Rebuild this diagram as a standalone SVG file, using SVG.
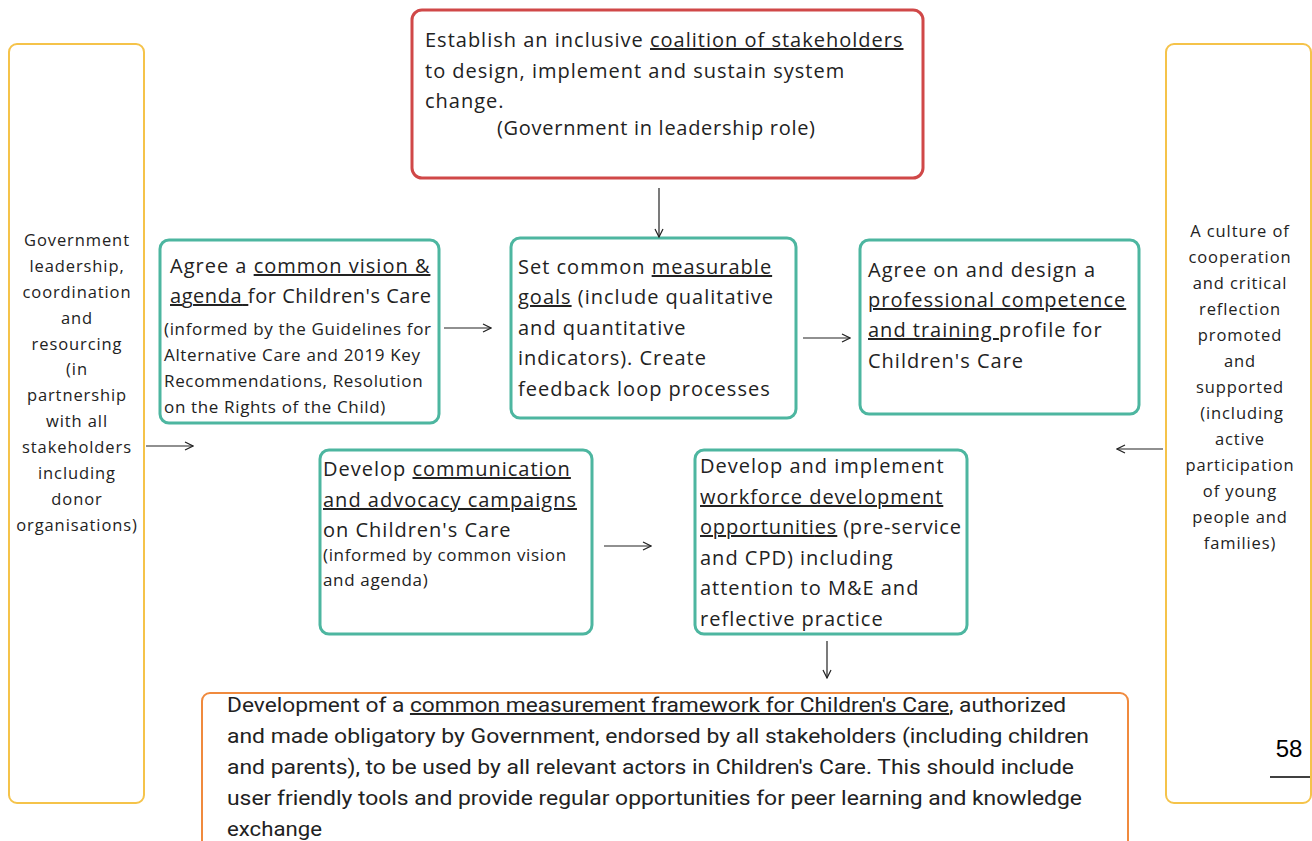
<svg xmlns="http://www.w3.org/2000/svg" width="1312" height="841" viewBox="0 0 1312 841">
<defs>
<marker id="arr" viewBox="0 0 10 10" refX="9" refY="5" markerWidth="10" markerHeight="10" markerUnits="userSpaceOnUse" orient="auto">
<path d="M1,1 L9,5 L1,9" fill="none" stroke="#222" stroke-width="1.2"/>
</marker>
<style>
.side{fill:#fff;stroke:#F5C34A;stroke-width:2}
.teal{fill:#fff;stroke:#4DB6A0;stroke-width:3}
.red{fill:#fff;stroke:#D04848;stroke-width:3}
.orange{fill:#fff;stroke:#F08A3E;stroke-width:2}
.t{font-family:"Open Sans","Noto Sans",sans-serif;font-size:20px;letter-spacing:1px;fill:#222}
.s{font-family:"Open Sans","Noto Sans",sans-serif;font-size:17px;letter-spacing:0.65px;fill:#222}
.sc{font-family:"Open Sans","Noto Sans",sans-serif;font-size:16.5px;letter-spacing:0.9px;fill:#222;text-anchor:middle}
.n{font-family:Roboto,"Liberation Sans",sans-serif;font-size:20px;fill:#222}
.u{text-decoration:underline}
.c{fill:none;stroke:#222;stroke-width:1.2}
</style>
</defs>
<rect width="1312" height="841" fill="#fff"/>

<g id="left">
<rect class="side" x="9" y="44" width="135" height="759" rx="8"/>
<text class="sc"><tspan x="77" y="246">Government</tspan><tspan x="77" y="272">leadership,</tspan><tspan x="77" y="298">coordination</tspan><tspan x="77" y="324">and</tspan><tspan x="77" y="350">resourcing</tspan><tspan x="77" y="375">(in</tspan><tspan x="77" y="401">partnership</tspan><tspan x="77" y="427">with all</tspan><tspan x="77" y="453">stakeholders</tspan><tspan x="77" y="479">including</tspan><tspan x="77" y="505">donor</tspan><tspan x="77" y="531">organisations)</tspan></text>
</g>

<g id="right">
<rect class="side" x="1166" y="44" width="145" height="759" rx="8"/>
<text class="sc"><tspan x="1240" y="237">A culture of</tspan><tspan x="1240" y="263">cooperation</tspan><tspan x="1240" y="289">and critical</tspan><tspan x="1240" y="315">reflection</tspan><tspan x="1240" y="341">promoted</tspan><tspan x="1240" y="367">and</tspan><tspan x="1240" y="393">supported</tspan><tspan x="1242" y="419">(including</tspan><tspan x="1240" y="445">active</tspan><tspan x="1240" y="471">participation</tspan><tspan x="1240" y="497">of young</tspan><tspan x="1240" y="523">people and</tspan><tspan x="1240" y="549">families)</tspan></text>
</g>

<g id="coalition">
<rect class="red" x="412" y="10" width="511" height="168" rx="10"/>
<text class="t"><tspan x="425" y="47">Establish an inclusive <tspan class="u">coalition of stakeholders</tspan></tspan><tspan x="425" y="78">to design, implement and sustain system</tspan><tspan x="425" y="108">change.</tspan></text>
<text class="t" x="497" y="135" textLength="319" lengthAdjust="spacing">(Government in leadership role)</text>
</g>

<g id="vision">
<rect class="teal" x="160" y="240" width="279" height="183" rx="9"/>
<text class="t"><tspan x="170" y="273">Agree a <tspan class="u">common vision &amp;</tspan></tspan></text>
<text class="t" x="170" y="303" textLength="262" lengthAdjust="spacing"><tspan class="u">agenda </tspan>for Children's Care</text>
<text class="s"><tspan x="164" y="335">(informed by the Guidelines for</tspan><tspan x="164" y="361">Alternative Care and 2019 Key</tspan><tspan x="164" y="387">Recommendations, Resolution</tspan><tspan x="164" y="413">on the Rights of the Child)</tspan></text>
</g>

<g id="goals">
<rect class="teal" x="511" y="238" width="285" height="180" rx="9"/>
<text class="t"><tspan x="518" y="274">Set common <tspan class="u">measurable</tspan></tspan><tspan x="518" y="304"><tspan class="u">goals</tspan> (include qualitative</tspan><tspan x="518" y="335">and quantitative</tspan><tspan x="518" y="365">indicators). Create</tspan><tspan x="518" y="396">feedback loop processes</tspan></text>
</g>

<g id="competence">
<rect class="teal" x="860" y="240" width="279" height="174" rx="9"/>
<text class="t"><tspan x="868" y="277">Agree on and design a</tspan><tspan x="868" y="307"><tspan class="u">professional competence</tspan></tspan><tspan x="868" y="337"><tspan class="u">and training </tspan>profile for</tspan><tspan x="868" y="368">Children's Care</tspan></text>
</g>

<g id="communication">
<rect class="teal" x="320" y="450" width="272" height="184" rx="9"/>
<text class="t"><tspan x="323" y="476">Develop <tspan class="u">communication</tspan></tspan><tspan x="323" y="507"><tspan class="u">and advocacy campaigns</tspan></tspan><tspan x="323" y="537">on Children's Care</tspan></text>
<text class="s"><tspan x="323" y="561">(informed by common vision</tspan><tspan x="323" y="586">and agenda)</tspan></text>
</g>

<g id="workforce">
<rect class="teal" x="695" y="450" width="272" height="184" rx="9"/>
<text class="t"><tspan x="700" y="473">Develop and implement</tspan><tspan x="700" y="504"><tspan class="u">workforce development</tspan></tspan></text>
<text class="t" x="700" y="534" textLength="262" lengthAdjust="spacing"><tspan class="u">opportunities</tspan> (pre-service</text>
<text class="t"><tspan x="700" y="565">and CPD) including</tspan><tspan x="700" y="595">attention to M&amp;E and</tspan><tspan x="700" y="626">reflective practice</tspan></text>
</g>

<g id="framework">
<rect class="orange" x="202" y="693" width="926" height="170" rx="8"/>
<text class="n"><tspan x="227" y="712" textLength="839" lengthAdjust="spacingAndGlyphs">Development of a <tspan class="u">common measurement framework for Children's Care</tspan>, authorized</tspan></text>
<text class="n" x="227" y="743" textLength="862" lengthAdjust="spacingAndGlyphs">and made obligatory by Government, endorsed by all stakeholders (including children</text>
<text class="n" x="227" y="774" textLength="847" lengthAdjust="spacingAndGlyphs">and parents), to be used by all relevant actors in Children's Care. This should include</text>
<text class="n" x="227" y="805" textLength="855" lengthAdjust="spacingAndGlyphs">user friendly tools and provide regular opportunities for peer learning and knowledge</text>
<text class="n" x="227" y="836" textLength="95" lengthAdjust="spacingAndGlyphs">exchange</text>
</g>

<g id="page">
<text x="1289" y="757" font-family="Liberation Sans,sans-serif" font-size="24" fill="#000" text-anchor="middle">58</text>
<line x1="1270" y1="777" x2="1310" y2="777" stroke="#000" stroke-width="1.5"/>
</g>

<g id="connectors">
<line class="c" x1="659" y1="188" x2="659" y2="237" marker-end="url(#arr)"/>
<line class="c" x1="444" y1="328" x2="491" y2="328" marker-end="url(#arr)"/>
<line class="c" x1="803" y1="338" x2="850" y2="338" marker-end="url(#arr)"/>
<line class="c" x1="146" y1="446" x2="193" y2="446" marker-end="url(#arr)"/>
<line class="c" x1="1163" y1="449" x2="1117" y2="449" marker-end="url(#arr)"/>
<line class="c" x1="604" y1="546" x2="651" y2="546" marker-end="url(#arr)"/>
<line class="c" x1="827" y1="641" x2="827" y2="678" marker-end="url(#arr)"/>
</g>
</svg>
